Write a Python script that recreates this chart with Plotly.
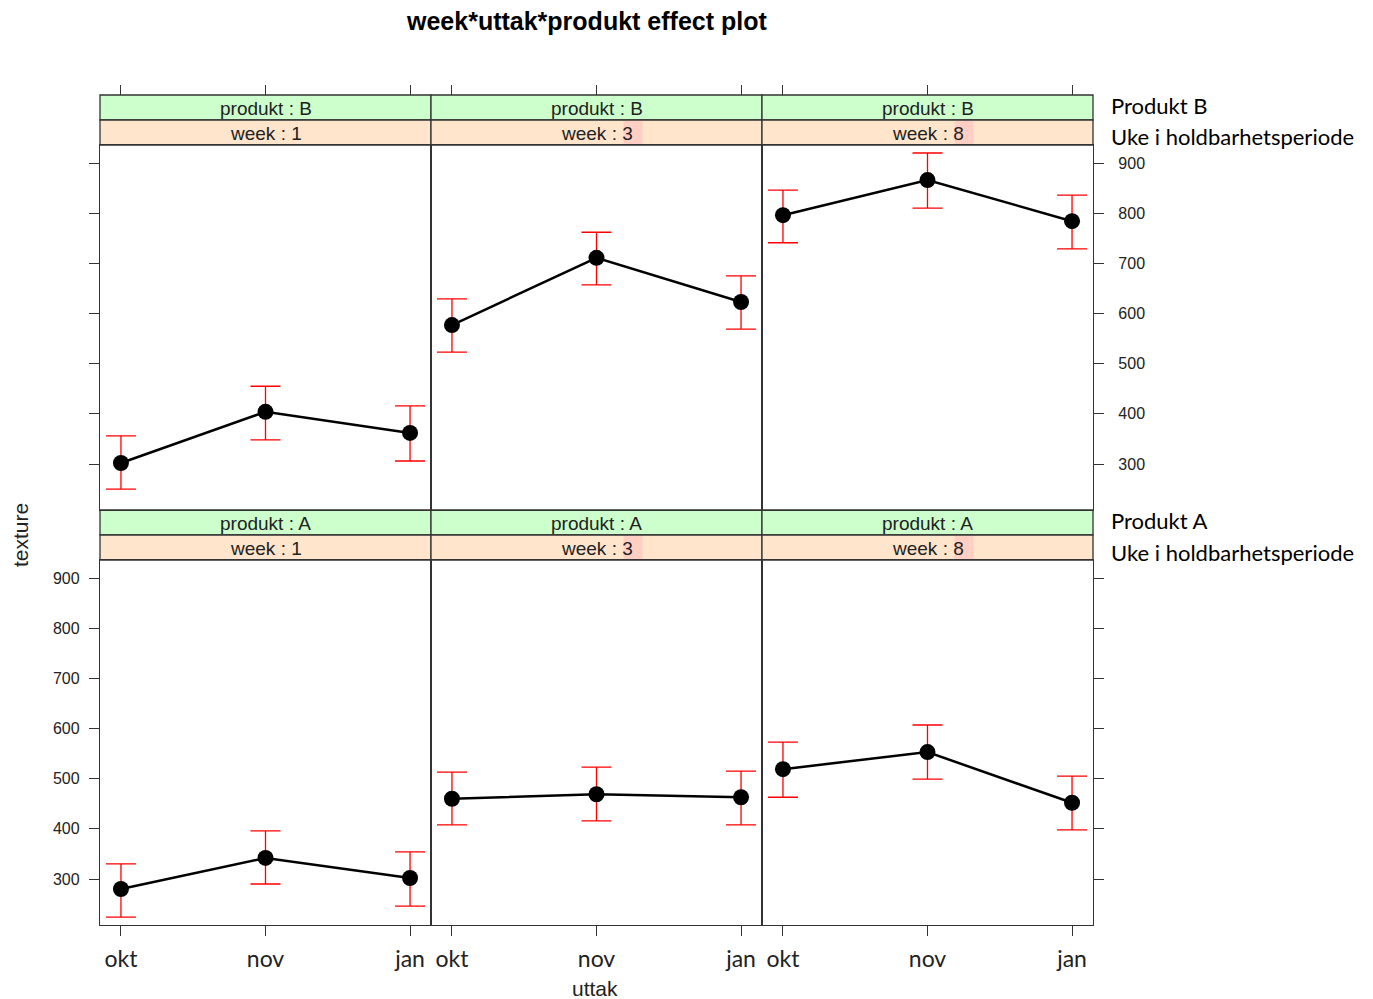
import plotly.graph_objects as go

# ---------------- data ----------------
uttak = ["okt", "nov", "jan"]
weeks = ["1", "3", "8"]
produkter = ["B", "A"]          # top row = B, bottom row = A

fit_B_w1 = [302, 404, 362]
low_B_w1 = [250, 348, 306]
up_B_w1 = [356, 455, 416]

fit_B_w3 = [577, 711, 623]
low_B_w3 = [523, 657, 569]
up_B_w3 = [629, 762, 675]

fit_B_w8 = [796, 866, 784]
low_B_w8 = [741, 810, 729]
up_B_w8 = [846, 920, 836]

fit_A_w1 = [280, 342, 302]
low_A_w1 = [224, 290, 246]
up_A_w1 = [330, 396, 354]

fit_A_w3 = [460, 469, 463]
low_A_w3 = [408, 416, 408]
up_A_w3 = [513, 523, 515]

fit_A_w8 = [519, 553, 452]
low_A_w8 = [463, 499, 398]
up_A_w8 = [573, 607, 505]

y_ticks = [300, 400, 500, 600, 700, 800, 900]

panels = {
    ("B", "1"): (fit_B_w1, low_B_w1, up_B_w1),
    ("B", "3"): (fit_B_w3, low_B_w3, up_B_w3),
    ("B", "8"): (fit_B_w8, low_B_w8, up_B_w8),
    ("A", "1"): (fit_A_w1, low_A_w1, up_A_w1),
    ("A", "3"): (fit_A_w3, low_A_w3, up_A_w3),
    ("A", "8"): (fit_A_w8, low_A_w8, up_A_w8),
}

# ---------------- geometry ----------------
OFF = 8                      # default page margin of the html body
W, H = 1373 - OFF, 999 - OFF


def px(x):
    return (x - OFF) / W


def py(y):
    return 1 - (y - OFF) / H


col_edges = [(100, 431), (431, 762), (762, 1093)]
row_panel = [(145, 510), (560, 925)]      # panel body (top, bottom) in px
row_strip = [(95, 120, 145), (510, 535, 560)]
YR = [208.3, 935.9]
XR = [-0.145, 2.145]

LINE = "#333333"
TXT = "#222222"
GREEN = "#CCFFCC"
ORANGE = "#FFE5CC"
PINK = "#FFCFC4"

fig = go.Figure()
shapes = []
annotations = []

for r, prod in enumerate(produkter):
    for c, wk in enumerate(weeks):
        k = r * 3 + c + 1
        xa = "x" if k == 1 else f"x{k}"
        ya = "y" if k == 1 else f"y{k}"
        fit, low, up = panels[(prod, wk)]
        fig.add_trace(go.Scatter(
            x=uttak, y=fit, xaxis=xa, yaxis=ya, mode="lines+markers",
            line=dict(color="black", width=2.5),
            marker=dict(color="black", size=16),
            error_y=dict(type="data", symmetric=False,
                         array=[u - f for u, f in zip(up, fit)],
                         arrayminus=[f - l for f, l in zip(fit, low)],
                         color="#FF0000", thickness=1.3, width=15),
            showlegend=False, hoverinfo="skip",
        ))
        x0, x1 = col_edges[c]
        t, b = row_panel[r]
        xd = dict(domain=[px(x0), px(x1)], anchor=ya, range=XR,
                  type="category", categoryorder="array", categoryarray=uttak,
                  showgrid=False, zeroline=False, showline=True, mirror=True,
                  linecolor=LINE, linewidth=1.3, automargin=False)
        if r == 1:
            xd.update(ticks="outside", ticklen=10, tickwidth=1.3, tickcolor=LINE,
                      showticklabels=True, ticklabelstandoff=3,
                      tickfont=dict(family="Lato", size=23, color=TXT))
        else:
            xd.update(ticks="", showticklabels=False)
        yd = dict(domain=[py(b), py(t)], anchor=xa, range=YR,
                  tickvals=y_ticks, showgrid=False, zeroline=False,
                  showline=True, mirror=True, linecolor=LINE, linewidth=1.3,
                  automargin=False,
                  tickfont=dict(family="Liberation Sans", size=16, color=TXT))
        show_ticks = c in (0, 2)
        if show_ticks:
            yd.update(ticks="outside", ticklen=10, tickwidth=1.3, tickcolor=LINE,
                      side="left" if c == 0 else "right",
                      ticklabelstandoff=6 if c == 0 else 11)
            yd["showticklabels"] = (r == 1 and c == 0) or (r == 0 and c == 2)
        else:
            yd.update(ticks="", showticklabels=False)
        fig.layout[("xaxis" if k == 1 else f"xaxis{k}")] = xd
        fig.layout[("yaxis" if k == 1 else f"yaxis{k}")] = yd

        # strips
        s0, s1, s2 = row_strip[r]
        shapes.append(dict(type="rect", xref="paper", yref="paper",
                           x0=px(x0), x1=px(x1), y0=py(s1), y1=py(s0),
                           fillcolor=GREEN, line=dict(color=LINE, width=1.3),
                           layer="below"))
        shapes.append(dict(type="rect", xref="paper", yref="paper",
                           x0=px(x0), x1=px(x1), y0=py(s2), y1=py(s1),
                           fillcolor=ORANGE, line=dict(color=LINE, width=1.3),
                           layer="below"))
        xc = (x0 + x1) / 2
        annotations.append(dict(text=f"produkt : {prod}", xref="paper", yref="paper",
                                x=px(xc), y=py((s0 + s1) / 2 + 1), showarrow=False,
                                xanchor="center", yanchor="middle",
                                font=dict(family="Liberation Sans", size=19, color=TXT)))
        if wk != "1":
            shapes.append(dict(type="rect", xref="paper", yref="paper",
                               x0=px(xc + 27), x1=px(xc + 46), y0=py(s2 - 1), y1=py(s1 + 1),
                               fillcolor=PINK, line=dict(width=0), layer="below"))
        annotations.append(dict(text=f"week : {wk}", xref="paper", yref="paper",
                                x=px(xc), y=py((s1 + s2) / 2 + 1), showarrow=False,
                                xanchor="center", yanchor="middle",
                                font=dict(family="Liberation Sans", size=19, color=TXT)))

# top tick marks above the strips of the top row
for c in range(3):
    k = 7 + c
    base = "x" if c == 0 else f"x{c + 1}"
    ya = "y" if c == 0 else f"y{c + 1}"
    fig.add_trace(go.Scatter(x=uttak, y=[None] * 3, xaxis=f"x{k}", yaxis=ya,
                             mode="markers", showlegend=False, hoverinfo="skip"))
    fig.layout[f"xaxis{k}"] = dict(overlaying=base, anchor="free", position=py(95),
                                   side="top", range=XR, type="category",
                                   categoryorder="array", categoryarray=uttak,
                                   ticks="outside", ticklen=10, tickwidth=1.3,
                                   tickcolor=LINE, showticklabels=False,
                                   showline=False, showgrid=False, zeroline=False,
                                   automargin=False)

# titles and side labels
annotations += [
    dict(text="<b>week*uttak*produkt effect plot</b>", xref="paper", yref="paper",
         x=px(586), y=py(21), showarrow=False, xanchor="center", yanchor="middle",
         font=dict(family="Liberation Sans", size=25, color="black")),
    dict(text="texture", xref="paper", yref="paper", x=px(20), y=py(535),
         showarrow=False, textangle=-90, xanchor="center", yanchor="middle",
         font=dict(family="Liberation Sans", size=21, color=TXT)),
    dict(text="uttak", xref="paper", yref="paper", x=px(595), y=py(988),
         showarrow=False, xanchor="center", yanchor="middle",
         font=dict(family="Liberation Sans", size=21, color=TXT)),
]
side_labels = [("Produkt B", 105), ("Uke i holdbarhetsperiode", 136),
               ("Produkt A", 520), ("Uke i holdbarhetsperiode", 552)]
for txt, yy in side_labels:
    annotations.append(dict(text=txt, xref="paper", yref="paper", x=px(1109), y=py(yy),
                            showarrow=False, xanchor="left", yanchor="middle",
                            font=dict(family="Lato", size=22, color="black")))

fig.update_layout(width=W, height=H, margin=dict(l=0, r=0, t=0, b=0),
                  paper_bgcolor="white", plot_bgcolor="rgba(0,0,0,0)",
                  shapes=shapes, annotations=annotations, showlegend=False)

fig.write_html("out.html")
